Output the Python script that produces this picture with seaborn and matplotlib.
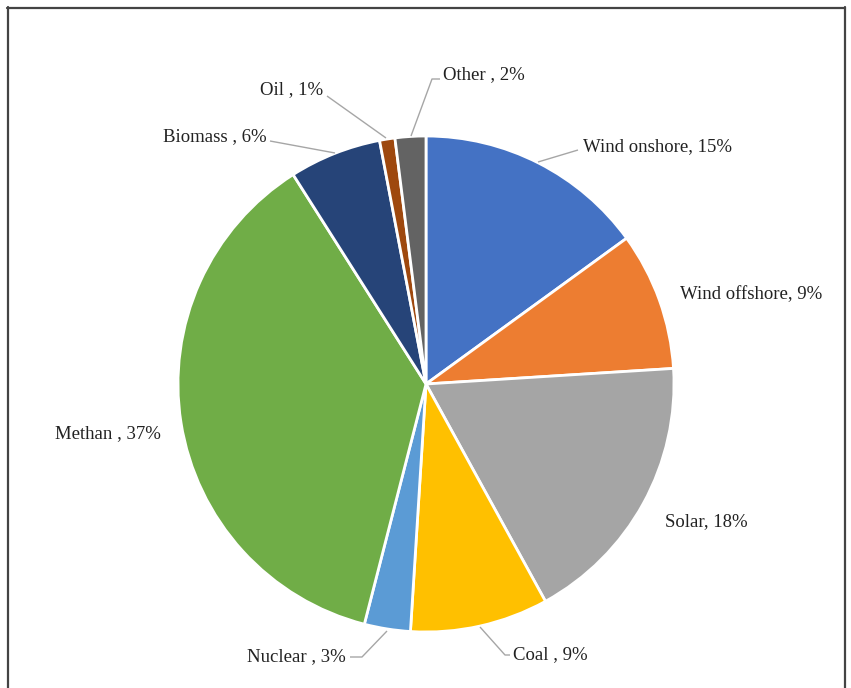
import matplotlib
matplotlib.use("Agg")
import matplotlib.pyplot as plt
import seaborn as sns
import numpy as np
from matplotlib.lines import Line2D

categories = ["Wind onshore", "Wind offshore", "Solar", "Coal", "Nuclear",
              "Methan", "Biomass", "Oil", "Other"]
values = [15, 9, 18, 9, 3, 37, 6, 1, 2]
labels = ["Wind onshore, 15%", "Wind offshore, 9%", "Solar, 18%", "Coal , 9%",
          "Nuclear , 3%", "Methan , 37%", "Biomass , 6%", "Oil , 1%", "Other , 2%"]
colors = ["#4472C4", "#ED7D31", "#A5A5A5", "#FFC000", "#5B9BD5",
          "#70AD47", "#264478", "#9E480E", "#636363"]

sns.set_theme(style="white")
plt.rcParams['font.family'] = ['Liberation Serif', 'DejaVu Serif']

W, H = 851, 688
fig = plt.figure(figsize=(W / 100, H / 100), dpi=100)
ax = fig.add_axes([0, 0, 1, 1])

cx, cy, R = 426, 384, 248  # pixel geometry
def d(px, py):
    return ((px - cx) / R, (cy - py) / R)

ax.set_xlim(-cx / R, (W - cx) / R)
ax.set_ylim(-(H - cy) / R, cy / R)
ax.axis("off")

ax.pie(values, colors=sns.color_palette(colors), startangle=90, counterclock=False,
       radius=1.0, center=(0, 0), frame=True,
       wedgeprops=dict(edgecolor="white", linewidth=2))
ax.set_xlim(-cx / R, (W - cx) / R)
ax.set_ylim(-(H - cy) / R, cy / R)
ax.set_aspect("auto")
ax.axis("off")

# label placement (text anchor pixel, ha) and leader polyline pixels
fs = 13.5
place = {
    "Wind onshore": ((583, 147), "left", [(538, 162), (578, 150)]),
    "Wind offshore": ((680, 295), "left", None),
    "Solar": ((665, 522), "left", None),
    "Coal": ((513, 655), "left", [(480, 627), (505, 655), (510, 655)]),
    "Nuclear": ((346, 657), "right", [(387, 631), (362, 657), (350, 657)]),
    "Methan": ((161, 434), "right", None),
    "Biomass": ((267, 137), "right", [(335, 153), (270, 141)]),
    "Oil": ((323, 90), "right", [(386, 138), (327, 96)]),
    "Other": ((443, 75), "left", [(411, 136), (432, 79), (440, 79)]),
}
for cat, lab in zip(categories, labels):
    (px, py), ha, leader = place[cat]
    x, y = d(px, py)
    ax.text(x, y, lab, ha=ha, va="center", fontsize=fs, color="#222222")
    if leader:
        xs, ys = zip(*[d(a, b) for a, b in leader])
        ax.plot(xs, ys, color="#A6A6A6", lw=1.0, solid_capstyle="butt")

# outer frame (top, left, right)
def fx(p):
    return p / W
def fy(p):
    return 1 - p / H
frame_kw = dict(color="#444444", lw=1.6, transform=fig.transFigure)
fig.add_artist(Line2D([fx(7), fx(845)], [fy(7.5), fy(7.5)], **frame_kw))
fig.add_artist(Line2D([fx(7.5), fx(7.5)], [fy(7), fy(700)], **frame_kw))
fig.add_artist(Line2D([fx(844.5), fx(844.5)], [fy(7), fy(700)], **frame_kw))

fig.savefig("out.png", dpi=100)
